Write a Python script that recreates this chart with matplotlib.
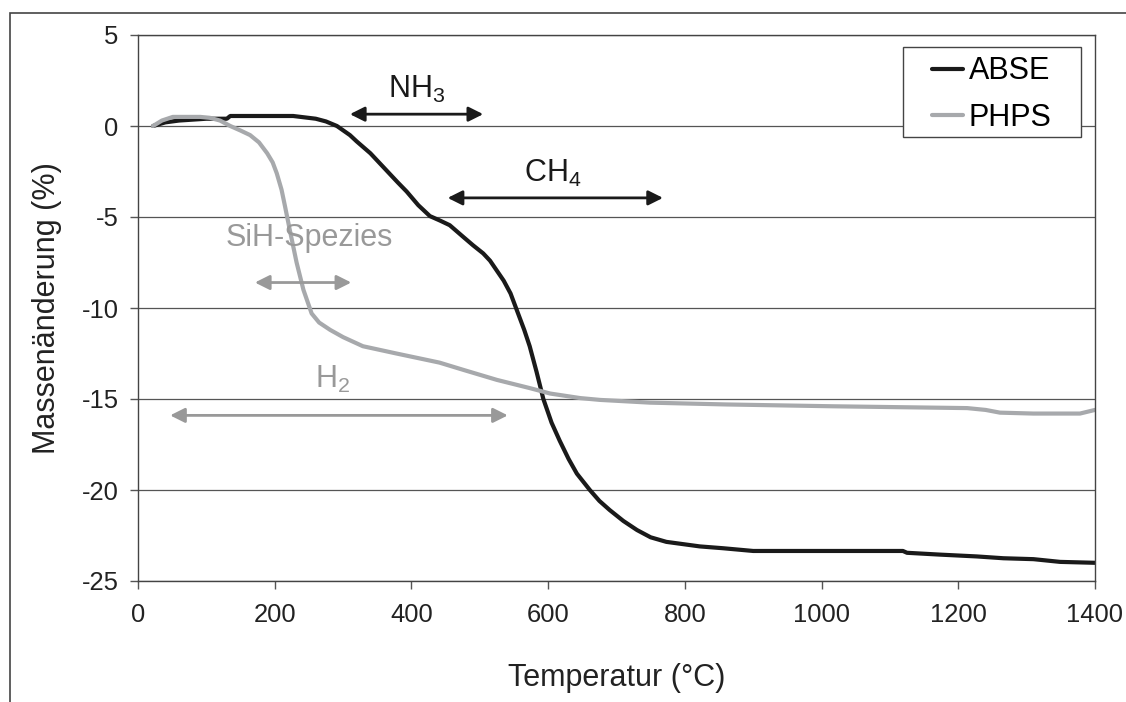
import matplotlib
matplotlib.use("Agg")
import matplotlib.pyplot as plt
from matplotlib.patches import Rectangle

plt.rcParams['font.family'] = ['Liberation Sans', 'DejaVu Sans']
plt.rcParams['mathtext.fontset'] = 'custom'
plt.rcParams['mathtext.rm'] = 'Liberation Sans'
plt.rcParams['mathtext.default'] = 'regular'
plt.rcParams['axes.unicode_minus'] = False

# ABSE (black)
abse_t = [22, 40, 60, 100, 130, 135, 227, 260, 275, 291, 310, 320, 340, 360, 380, 393, 410, 427, 442, 456,
          476, 490, 505, 515, 535, 545, 554, 565, 573, 583, 593, 605, 617, 630, 642, 661, 675, 690, 710,
          730, 750, 773, 822, 856, 900, 1119, 1125, 1173, 1227, 1266, 1310, 1349, 1400]
abse_m = [0.0, 0.2, 0.3, 0.4, 0.4, 0.55, 0.55, 0.4, 0.25, 0.0, -0.5, -0.85, -1.5, -2.3, -3.1, -3.6, -4.35, -4.95, -5.2, -5.45,
          -6.1, -6.55, -7.0, -7.4, -8.5, -9.2, -10.1, -11.2, -12.1, -13.5, -15.0, -16.3, -17.3, -18.3, -19.1, -20.0, -20.6, -21.1, -21.7,
          -22.2, -22.6, -22.85, -23.1, -23.2, -23.35, -23.35, -23.45, -23.55, -23.65, -23.75, -23.8, -23.95, -24.0]

# PHPS (grey)
phps_t = [22, 35, 51, 91, 105, 120, 135, 150, 164, 177, 189, 197, 203, 210, 215, 222, 232, 242, 254, 265,
          281, 300, 329, 378, 441, 476, 525, 573, 603, 647, 676, 749, 861, 1017, 1213, 1240, 1261, 1310, 1378, 1400]
phps_m = [0.0, 0.3, 0.5, 0.5, 0.45, 0.3, 0.0, -0.25, -0.5, -0.9, -1.5, -2.0, -2.6, -3.5, -4.4, -5.7, -7.5, -9.0, -10.3, -10.8,
          -11.2, -11.6, -12.1, -12.5, -13.0, -13.4, -13.95, -14.4, -14.7, -14.95, -15.05, -15.2, -15.3, -15.4, -15.5, -15.6, -15.75, -15.8, -15.8, -15.6]

# annotations: label, x_start, x_end, y_arrow, label x, label y, colour
gases = [
    ('NH$_3$', 310, 505, 0.65, 408, 2.0, '#1a1a1a'),
    ('CH$_4$', 453, 768, -3.95, 607, -2.6, '#1a1a1a'),
    ('SiH-Spezies', 171, 312, -8.6, 250, -6.15, '#999999'),
    ('H$_2$', 47, 541, -15.9, 285, -13.9, '#999999'),
]

fig = plt.figure(figsize=(11.26, 7.02), dpi=100)
ax = fig.add_axes([138/1126, 1-581/702, (1095-138)/1126, (581-35)/702])

ax.plot(abse_t, abse_m, color='#1a1a1a', lw=3.0, label='ABSE', solid_capstyle='round')
ax.plot(phps_t, phps_m, color='#a7a9ac', lw=3.0, label='PHPS', solid_capstyle='round')

for lab, x0, x1, ya, xl, yl, c in gases:
    ax.annotate('', xy=(x0, ya), xytext=(x1, ya),
                arrowprops=dict(arrowstyle='<|-|>', color=c, lw=2.0,
                                mutation_scale=22, shrinkA=0, shrinkB=0))
    ax.text(xl, yl, lab, color=c, fontsize=22, ha='center', va='center')

ax.set_xlim(0, 1400)
ax.set_ylim(-25, 5)
ax.set_xticks(range(0, 1401, 200))
ax.set_yticks(range(-25, 6, 5))
ax.yaxis.grid(True, color='#555555', lw=0.9)
ax.set_axisbelow(True)
for s in ax.spines.values():
    s.set_color('#444444')
    s.set_linewidth(1.0)
ax.tick_params(direction='out', length=6, width=1, color='#555555',
               labelsize=18.4, labelcolor='#222222', pad=8)
ax.tick_params(axis='x', pad=10)
ax.set_xlabel('Temperatur (°C)', fontsize=22, color='#222222', labelpad=26)
ax.set_ylabel('Massenänderung (%)', fontsize=22, color='#222222', labelpad=14)

# legend box drawn separately so it can be wider than the entries
lx0, lx1 = (903-138)/957, (1081-138)/957
ly0, ly1 = (581-137)/546, (581-47)/546
ax.add_patch(Rectangle((lx0, ly0), lx1-lx0, ly1-ly0, transform=ax.transAxes,
                       facecolor='white', edgecolor='#444444', lw=1.0, zorder=5))
leg = ax.legend(loc='center', fontsize=22, handlelength=1.0, handletextpad=0.2,
                borderpad=0.0, labelspacing=0.55, frameon=False,
                bbox_to_anchor=((lx0+lx1)/2, (ly0+ly1)/2 - 0.005), borderaxespad=0)
leg.set_zorder(6)

# outer frame (only left and top edges visible)
fig.patches.append(Rectangle((9.5/1126, -0.5), 2, 0.5 + 1 - 12.5/702, transform=fig.transFigure,
                             fill=False, edgecolor='#444444', lw=1.2))

fig.savefig('out.png', dpi=100)
